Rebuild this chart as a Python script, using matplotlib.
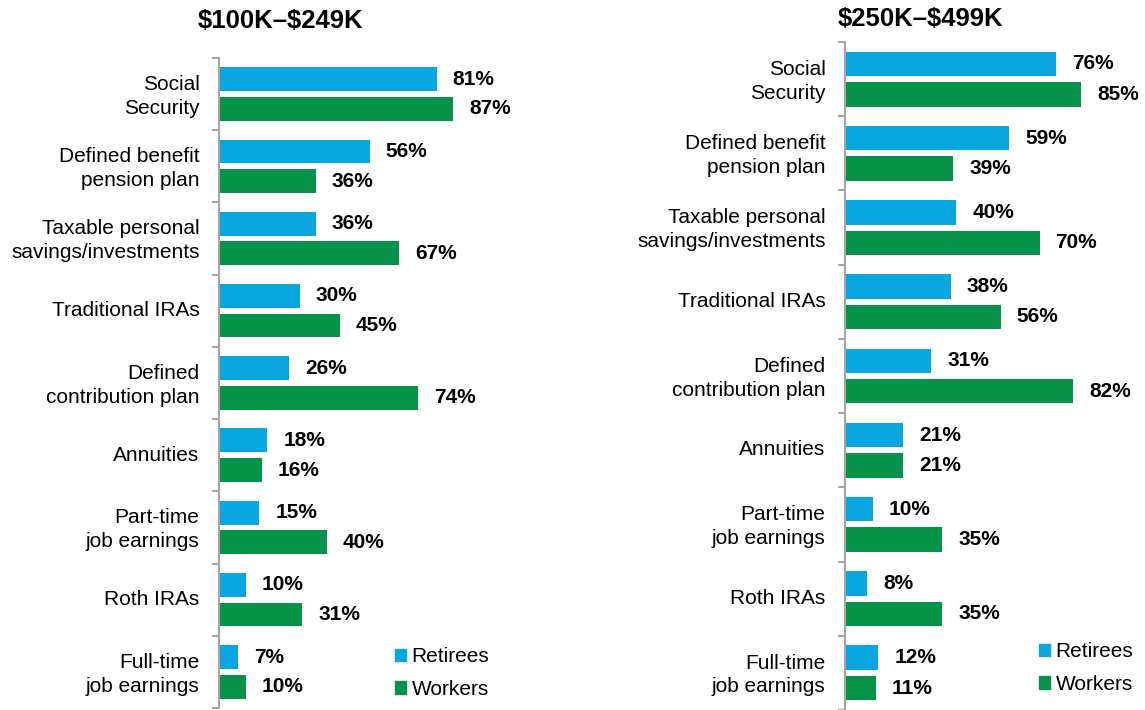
import matplotlib.pyplot as plt
import numpy as np
from matplotlib.patches import Patch

plt.rcParams["font.family"] = ["Liberation Sans", "DejaVu Sans"]

CATEGORIES = [
    "Social\nSecurity",
    "Defined benefit\npension plan",
    "Taxable personal\nsavings/investments",
    "Traditional IRAs",
    "Defined\ncontribution plan",
    "Annuities",
    "Part-time\njob earnings",
    "Roth IRAs",
    "Full-time\njob earnings",
]

# share of respondents (%) by income band
RETIREES_100_249 = [81, 56, 36, 30, 26, 18, 15, 10, 7]
WORKERS_100_249 = [87, 36, 67, 45, 74, 16, 40, 31, 10]
RETIREES_250_499 = [76, 59, 40, 38, 31, 21, 10, 8, 12]
WORKERS_250_499 = [85, 39, 70, 56, 82, 21, 35, 35, 11]

BLUE = "#0AA6DF"
GREEN = "#07924A"
SPINE = "#A6A6A6"

W, H = 1145, 710
fig = plt.figure(figsize=(W / 100, H / 100), dpi=100)


def px_axes(left, right, top, bottom):
    return fig.add_axes([left / W, 1 - bottom / H, (right - left) / W, (bottom - top) / H])


def panel(ax, retirees, workers, title, title_x, title_y, legend_xy):
    y = np.arange(len(CATEGORIES))
    off, h = 0.205, 0.33
    ax.barh(y - off, retirees, height=h, color=BLUE, label="Retirees")
    ax.barh(y + off, workers, height=h, color=GREEN, label="Workers")
    for yi, r, w in zip(y, retirees, workers):
        ax.annotate(f"{r}%", (r, yi - off), xytext=(11.5, 0), textcoords="offset points",
                    va="center", ha="left", fontsize=15, fontweight="bold")
        ax.annotate(f"{w}%", (w, yi + off), xytext=(11.5, 0), textcoords="offset points",
                    va="center", ha="left", fontsize=15, fontweight="bold")
    ax.set_xlim(0, 100)
    ax.set_ylim(len(CATEGORIES) - 0.5, -0.5)
    ax.set_yticks(y - 0.03)
    ax.set_yticklabels(CATEGORIES, fontsize=15, ha="right", linespacing=1.32)
    ax.tick_params(axis="y", which="major", length=0, pad=14)
    ax.set_yticks(np.arange(len(CATEGORIES) + 1) - 0.5, minor=True)
    ax.tick_params(axis="y", which="minor", length=5, width=1.5, color=SPINE)
    ax.set_xticks([])
    for s in ("top", "right", "bottom"):
        ax.spines[s].set_visible(False)
    ax.spines["left"].set_color(SPINE)
    ax.spines["left"].set_linewidth(1.5)
    fig.text(title_x / W, 1 - title_y / H, title, ha="center", va="center",
             fontsize=18.5, fontweight="bold")
    handles = [Patch(color=BLUE, label="Retirees"), Patch(color=GREEN, label="Workers")]
    fig.legend(handles=handles, loc="lower left",
               bbox_to_anchor=(legend_xy[0] / W, 1 - legend_xy[1] / H),
               frameon=False, fontsize=15, handlelength=0.55, handleheight=0.55,
               handletextpad=0.25, labelspacing=0.65, borderpad=0, borderaxespad=0)


ax1 = px_axes(219, 488, 58, 708)
panel(ax1, RETIREES_100_249, WORKERS_100_249, r"\$100K–\$249K", 280, 21, (395, 699))

ax2 = px_axes(845, 1123, 42, 710)
panel(ax2, RETIREES_250_499, WORKERS_250_499, r"\$250K–\$499K", 920, 19, (1039, 694))

fig.savefig("out.png", dpi=100)
